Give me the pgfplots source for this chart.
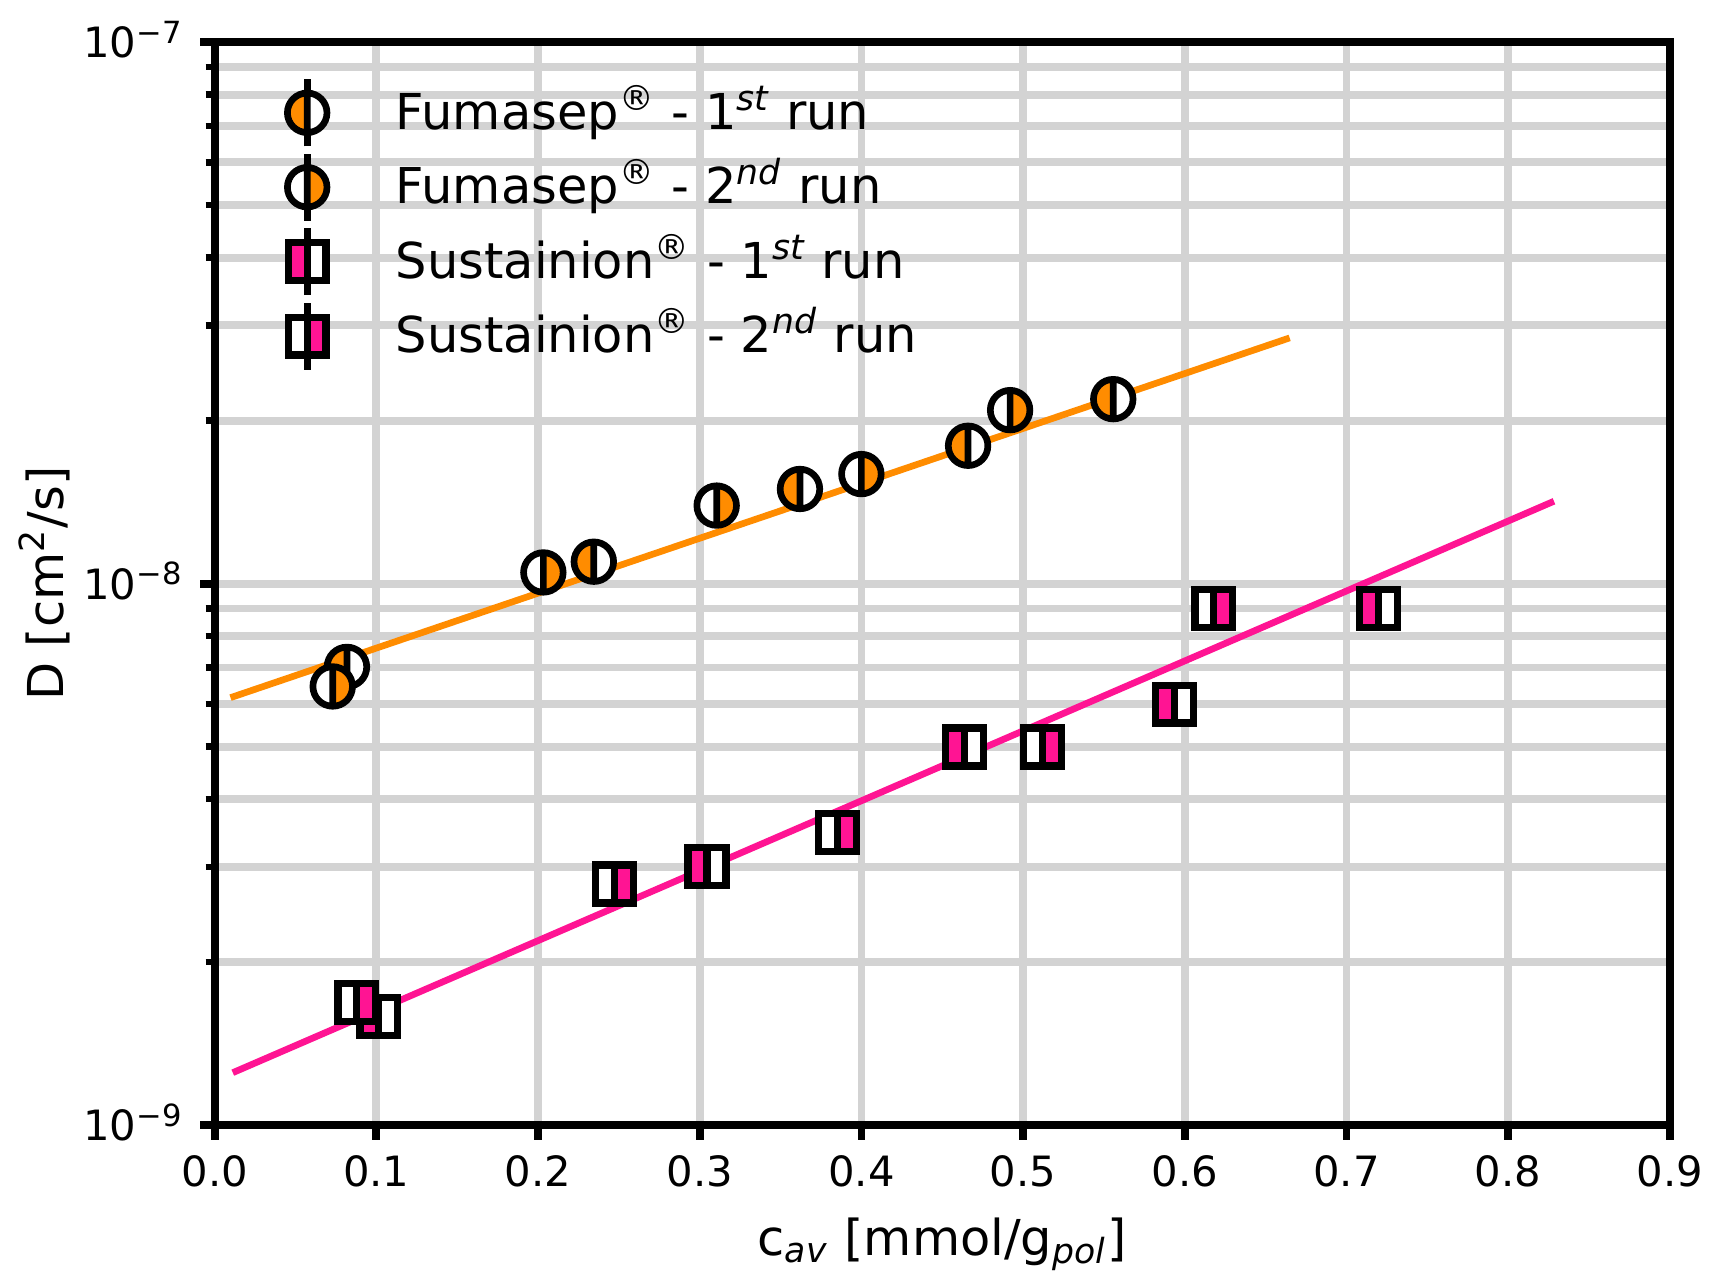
\documentclass[border=0pt]{standalone}
\usepackage{fontspec}
\setmainfont{DejaVu Sans}
\usepackage{pgfplots}
\pgfplotsset{compat=1.18}
\definecolor{fumcol}{RGB}{255,140,0}
\definecolor{suscol}{RGB}{255,20,147}
\definecolor{gridgray}{RGB}{211,211,211}

\newcommand\halfcircle[2]{%
  \pgfsetlinewidth{1.55pt}\pgfsetstrokecolor{black}%
  \pgfpathmoveto{\pgfpoint{0pt}{\pgfplotmarksize}}%
  \pgfpatharc{90}{270}{\pgfplotmarksize}%
  \pgfpathclose
  \pgfsetfillcolor{#1}\pgfusepath{fill}%
  \pgfpathmoveto{\pgfpoint{0pt}{-\pgfplotmarksize}}%
  \pgfpatharc{-90}{90}{\pgfplotmarksize}%
  \pgfpathclose
  \pgfsetfillcolor{#2}\pgfusepath{fill}%
  \pgfpathcircle{\pgfpointorigin}{\pgfplotmarksize}%
  \pgfpathmoveto{\pgfpoint{0pt}{-\pgfplotmarksize}}%
  \pgfpathlineto{\pgfpoint{0pt}{\pgfplotmarksize}}%
  \pgfusepath{stroke}}
\newcommand\halfsquare[2]{%
  \pgfsetlinewidth{1.7pt}\pgfsetstrokecolor{black}\pgfsetmiterjoin
  \pgfpathrectangle{\pgfpoint{-\pgfplotmarksize}{-\pgfplotmarksize}}{\pgfpoint{\pgfplotmarksize}{2\pgfplotmarksize}}%
  \pgfsetfillcolor{#1}\pgfusepath{fill}%
  \pgfpathrectangle{\pgfpoint{0pt}{-\pgfplotmarksize}}{\pgfpoint{\pgfplotmarksize}{2\pgfplotmarksize}}%
  \pgfsetfillcolor{#2}\pgfusepath{fill}%
  \pgfpathrectangle{\pgfpoint{-\pgfplotmarksize}{-\pgfplotmarksize}}{\pgfpoint{2\pgfplotmarksize}{2\pgfplotmarksize}}%
  \pgfpathmoveto{\pgfpoint{0pt}{-\pgfplotmarksize}}%
  \pgfpathlineto{\pgfpoint{0pt}{\pgfplotmarksize}}%
  \pgfusepath{stroke}}
\pgfdeclareplotmark{fumL}{\halfcircle{fumcol}{white}}
\pgfdeclareplotmark{fumR}{\halfcircle{white}{fumcol}}
\pgfdeclareplotmark{susL}{\halfsquare{suscol}{white}}
\pgfdeclareplotmark{susR}{\halfsquare{white}{suscol}}

\newcommand\legmark[2]{%
  \draw[overlay,line width=1.55pt,black] (0pt,-7.8pt) -- (0pt,7.8pt);
  \pgfpathrectangle{\pgfpoint{-6pt}{-5.4pt}}{\pgfpoint{12pt}{10.8pt}}\pgfusepath{discard}%
  \pgfscope\pgfplotmarksize=#2\relax\pgfuseplotmark{#1}\endpgfscope}
\newcommand\tsup[1]{\raisebox{3.35pt}{\fontsize{7.1}{8}\selectfont #1}}

\begin{document}
\begin{tikzpicture}
\begin{axis}[
  at={(0,0)}, anchor=south west,
  scale only axis, width=338.2pt, height=251.7pt,
  xmin=0, xmax=0.9, ymin=1e-9, ymax=1e-7, ymode=log,
  xtick={0,0.1,0.2,0.3,0.4,0.5,0.6,0.7,0.8,0.9},
  xticklabels={0.0,0.1,0.2,0.3,0.4,0.5,0.6,0.7,0.8,0.9},
  ytick={1e-9,1e-8,1e-7},
  yticklabels={{10\tsup{−9}},{10\tsup{−8}},{10\tsup{−7}}},
  minor ytick={2e-9,3e-9,4e-9,5e-9,6e-9,7e-9,8e-9,9e-9,2e-8,3e-8,4e-8,5e-8,6e-8,7e-8,8e-8,9e-8},
  xmajorgrids, ymajorgrids, yminorgrids,
  grid style={line width=1.8pt, gridgray},
  minor grid style={line width=1.8pt, gridgray},
  axis line style={line width=1.8pt, black},
  every tick/.style={line width=1.8pt, black},
  every minor tick/.style={line width=1.5pt, black},
  tick align=outside, major tick length=3.4pt, minor tick length=2.1pt,
  xtick pos=bottom, ytick pos=left,
  xticklabel style={font=\fontsize{9.7}{11}\selectfont, anchor=base, inner sep=0pt, yshift=-10.8pt},
  yticklabel style={font=\fontsize{9.7}{11}\selectfont, anchor=base east, inner sep=0pt, xshift=-4.1pt, yshift=-3.6pt},
  xlabel={c\textsubscript{\itshape av} [mmol/g\textsubscript{\itshape pol}]},
  ylabel={D [cm\textsuperscript{2}/s]},
  xlabel style={font=\fontsize{11.5}{14}\selectfont, at={(rel axis cs:0.5,0)}, anchor=base, yshift=-30.2pt},
  ylabel style={font=\fontsize{11.5}{14}\selectfont, at={([xshift=-35.2pt]rel axis cs:0,0.5)}, anchor=base},
  legend cell align=left,
  legend style={at={(rel axis cs:0,1)}, anchor=north west, xshift=15.5pt, yshift=-9.4pt,
    draw=none, fill=none, inner sep=0pt, outer sep=0pt, row sep=3.3pt, column sep=14.6pt,
    font=\fontsize{11.5}{14}\selectfont,
    nodes={inner sep=0pt, text height=10.8pt, text depth=3.2pt, anchor=west}},
]
% fit lines
\addplot[forget plot, fumcol, line width=1.55pt] coordinates {(0.0098,6.16e-9) (0.6649,2.844e-8)};
\addplot[forget plot, suscol, line width=1.55pt] coordinates {(0.0112,1.25e-9) (0.8284,1.42e-8)};
% Fumasep 1st run
\addplot[only marks, mark=fumL, mark size=4.6pt,
  legend image code/.code={\legmark{fumL}{4.6pt}}] coordinates {
  (0.0818,7.02e-9) (0.2345,1.098e-8) (0.362,1.496e-8) (0.466,1.798e-8) (0.5558,2.192e-8)};
\addlegendentry{Fumasep\textsuperscript{®} - 1\textsuperscript{\itshape st} run}
% Fumasep 2nd run
\addplot[only marks, mark=fumR, mark size=4.6pt,
  legend image code/.code={\legmark{fumR}{4.6pt}}] coordinates {
  (0.0730,6.46e-9) (0.2033,1.049e-8) (0.3105,1.394e-8) (0.400,1.594e-8) (0.492,2.092e-8)};
\addlegendentry{Fumasep\textsuperscript{®} - 2\textsuperscript{\itshape nd} run}
% Sustainion 1st run
\addplot[only marks, mark=susL, mark size=4.4pt,
  legend image code/.code={\legmark{susL}{4.4pt}}] coordinates {
  (0.1015,1.586e-9) (0.3045,3.006e-9) (0.4639,4.995e-9) (0.5936,5.99e-9) (0.7199,8.99e-9)};
\addlegendentry{Sustainion\textsuperscript{®} - 1\textsuperscript{\itshape st} run}
% Sustainion 2nd run
\addplot[only marks, mark=susR, mark size=4.4pt,
  legend image code/.code={\legmark{susR}{4.4pt}}] coordinates {
  (0.0879,1.686e-9) (0.2474,2.789e-9) (0.3852,3.472e-9) (0.5121,4.995e-9) (0.618,8.99e-9)};
\addlegendentry{Sustainion\textsuperscript{®} - 2\textsuperscript{\itshape nd} run}
\end{axis}
\pgfresetboundingbox
\path (-49.9pt,-35.1pt) rectangle (350.1pt,261.5pt);
\end{tikzpicture}
\end{document}
